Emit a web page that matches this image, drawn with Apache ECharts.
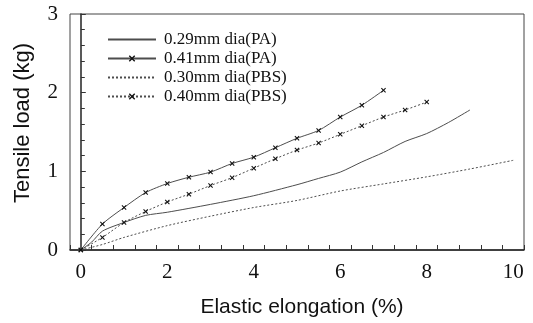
<!DOCTYPE html>
<html>
<head>
<meta charset="utf-8">
<script src="https://cdn.jsdelivr.net/npm/echarts@6/dist/echarts.min.js"></script>
<style>
  html, body { margin: 0; padding: 0; background: #fff; }
  #chart { width: 533px; height: 323px; }
</style>
</head>
<body>
<div id="chart"></div>
<script>
// series names (legend order)
const names = ['0.29mm dia(PA)', '0.41mm dia(PA)', '0.30mm dia(PBS)', '0.40mm dia(PBS)']

// elongation (%) / tensile load (kg)
const pa29X = [0, 0.25, 0.5, 1, 1.5, 2, 3, 4, 5, 5.5, 6, 6.5, 7, 7.5, 8, 8.5, 9]
const pa29Y = [0, 0.1, 0.24, 0.35, 0.44, 0.48, 0.58, 0.69, 0.83, 0.91, 0.99, 1.12, 1.24, 1.38, 1.48, 1.62, 1.78]

const pa41X = [0, 0.5, 1, 1.5, 2, 2.5, 3, 3.5, 4, 4.5, 5, 5.5, 6, 6.5, 7]
const pa41Y = [0, 0.33, 0.54, 0.73, 0.845, 0.925, 0.99, 1.1, 1.18, 1.3, 1.42, 1.52, 1.69, 1.84, 2.03]

const pbs30X = [0, 0.5, 1, 2, 3, 4, 5, 6, 7, 8, 9, 10]
const pbs30Y = [0, 0.07, 0.16, 0.31, 0.43, 0.54, 0.63, 0.75, 0.84, 0.93, 1.03, 1.14]

const pbs40X = [0, 0.5, 1, 1.5, 2, 2.5, 3, 3.5, 4, 4.5, 5, 5.5, 6, 6.5, 7, 7.5, 8]
const pbs40Y = [0, 0.16, 0.35, 0.49, 0.61, 0.71, 0.82, 0.92, 1.04, 1.16, 1.27, 1.36, 1.47, 1.58, 1.69, 1.78, 1.88]

// axis tick labels
const xLabels = [0, 2, 4, 6, 8, 10]

// which series carry point markers
const marked = [false, true, false, true]

const pair = (xs, ys) => xs.map((x, i) => [x, ys[i]])

const cross = 'path://M0,1.5L1.5,0L5,3.5L8.5,0L10,1.5L6.5,5L10,8.5L8.5,10L5,6.5L1.5,10L0,8.5L3.5,5Z'
const serif = 'Liberation Serif'
const sans = 'Liberation Sans'
const ink = '#111'

function lineSeries(name, data, dashed, withMarks) {
    return {
        name: name,
        type: 'line',
        data: data,
        smooth: 0.25,
        xAxisIndex: 0,
        symbol: withMarks ? cross : 'none',
        showSymbol: withMarks,
        symbolSize: 5,
        itemStyle: { color: ink },
        lineStyle: {
            color: '#4d4d4d',
            width: 1,
            type: dashed ? [2, 2] : 'solid'
        },
        emphasis: { disabled: true },
        animation: false
    }
}

const chart = echarts.init(document.getElementById('chart'))
chart.setOption({
    animation: false,
    grid: {
        left: 70, right: 9, top: 14, bottom: 71,
        show: true, borderColor: '#444', borderWidth: 1
    },
    legend: {
        orient: 'vertical',
        left: 107,
        top: 31,
        padding: 0,
        itemWidth: 48,
        itemHeight: 8,
        itemGap: 2,
        data: names.map((n, i) => marked[i] ? n : { name: n, itemStyle: { opacity: 0 } }),
        textStyle: { fontFamily: serif, fontSize: 17, color: ink, padding: [0, 0, 0, 3] }
    },
    xAxis: [
        {
            type: 'value',
            min: -0.25,
            max: 10.25,
            name: 'Elastic elongation (%)',
            nameLocation: 'middle',
            nameGap: 47,
            nameTextStyle: { fontFamily: sans, fontSize: 21, color: ink, padding: [0, 0, 0, 10] },
            splitLine: { show: false },
            axisLine: { lineStyle: { color: '#222', width: 1.5 } },
            axisTick: { show: false },
            axisLabel: {
                margin: 12,
                fontFamily: serif, fontSize: 21, color: ink,
                formatter: v => (xLabels.includes(v) ? String(v) : '')
            }
        },
        {
            type: 'value',
            position: 'bottom',
            min: -0.25,
            max: 10.25,
            interval: 0.5,
            splitLine: { show: false },
            axisLine: { show: false },
            axisTick: { inside: true, length: 5, lineStyle: { color: '#333' } },
            axisLabel: { show: false }
        }
    ],
    yAxis: {
        type: 'value',
        min: 0,
        max: 3,
        interval: 1,
        name: 'Tensile load (kg)',
        nameLocation: 'middle',
        nameGap: 36,
        nameTextStyle: { fontFamily: sans, fontSize: 22, color: ink, padding: [0, 0, 0, 18] },
        splitLine: { show: false },
        axisLine: { show: true, lineStyle: { color: '#222', width: 1.5 } },
        axisTick: { inside: true, length: 5, lineStyle: { color: '#333' } },
        minorTick: { show: true, splitNumber: 5, length: 4, lineStyle: { color: '#333' } },
        axisLabel: { margin: 12, fontFamily: serif, fontSize: 21, color: ink }
    },
    series: [
        lineSeries(names[0], pair(pa29X, pa29Y), false, marked[0]),
        lineSeries(names[1], pair(pa41X, pa41Y), false, marked[1]),
        lineSeries(names[2], pair(pbs30X, pbs30Y), true, marked[2]),
        lineSeries(names[3], pair(pbs40X, pbs40Y), true, marked[3])
    ]
})
</script>
</body>
</html>
